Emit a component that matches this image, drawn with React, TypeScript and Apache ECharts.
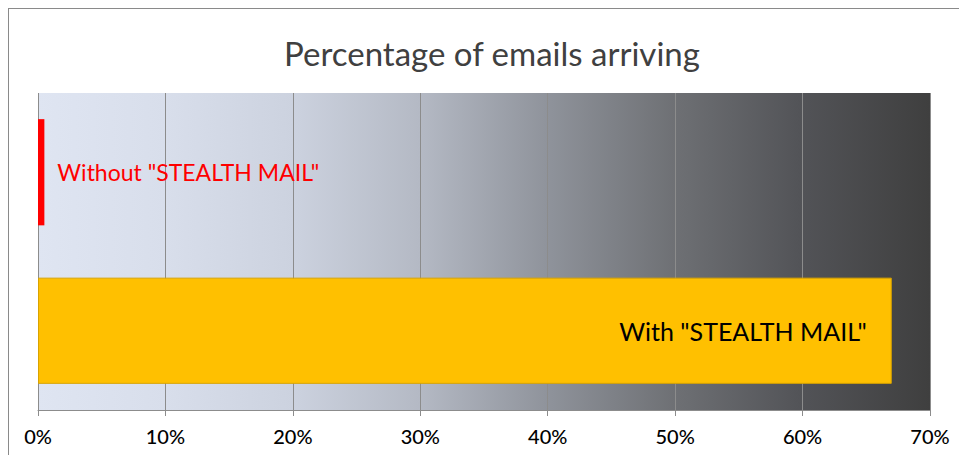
import React, { useEffect, useRef } from "react";
import * as echarts from "echarts";

const categories = ['Without "STEALTH MAIL"', 'With "STEALTH MAIL"'];
const values = [0.5, 67];
const barColors = ["#FF0000", "#FFC000"];
const labelColors = ["#FF0000", "#000000"];
const tickValues = [0, 10, 20, 30, 40, 50, 60, 70];
const titleText = "Percentage of emails arriving";

export default function App() {
  const ref = useRef<HTMLDivElement>(null);
  useEffect(() => {
    if (!ref.current) return;
    const chart = echarts.init(ref.current, undefined, { renderer: "svg" });
    chart.setOption({
      animation: false,
      backgroundColor: "#ffffff",
      title: {
        text: titleText,
        left: 487,
        textAlign: "center",
        top: 31,
        textStyle: { fontFamily: "Lato", fontSize: 33, fontWeight: "normal", color: "#404040" },
      },
      graphic: [
        { type: "line", shape: { x1: 8, y1: 8.5, x2: 959, y2: 8.5 }, style: { stroke: "#8a8a8a", lineWidth: 1 } },
        { type: "line", shape: { x1: 8.5, y1: 8, x2: 8.5, y2: 455 }, style: { stroke: "#8a8a8a", lineWidth: 1 } },
      ],
      grid: {
        left: 38,
        right: 29,
        top: 93,
        bottom: 45,
        show: true,
        borderWidth: 0,
        backgroundColor: new echarts.graphic.LinearGradient(0, 0, 1, 0, [
          { offset: 0, color: "#dfe5f2" },
          { offset: 1 / 7, color: "#d8deeb" },
          { offset: 2 / 7, color: "#ccd2df" },
          { offset: 3 / 7, color: "#b4b9c4" },
          { offset: 4 / 7, color: "#8f939b" },
          { offset: 5 / 7, color: "#6e7074" },
          { offset: 6 / 7, color: "#525357" },
          { offset: 1, color: "#3f3f3f" },
        ]),
      },
      xAxis: {
        type: "value",
        min: tickValues[0],
        max: tickValues[tickValues.length - 1],
        interval: 10,
        axisLine: { show: true, lineStyle: { color: "#8c8c8c" } },
        axisTick: { show: true, length: 6, lineStyle: { color: "#8c8c8c" } },
        splitLine: { show: true, lineStyle: { color: "#8c8c8c", width: 1 } },
        axisLabel: {
          formatter: "{value}%",
          margin: 16,
          fontFamily: "Lato",
          fontSize: 20,
          fontWeight: 500,
          color: "#000000",
        },
      },
      yAxis: {
        type: "category",
        data: categories,
        inverse: true,
        axisLine: { show: false },
        axisTick: { show: false },
        axisLabel: { show: false },
        splitLine: { show: false },
      },
      series: [
        {
          type: "bar",
          barWidth: "67%",
          data: values.map((v, i) => ({
            value: v,
            itemStyle: { color: barColors[i], borderColor: i === 1 ? "#d9a300" : barColors[i], borderWidth: i === 1 ? 1 : 0 },
            label: {
              show: true,
              formatter: "{b}",
              position: i === 0 ? "right" : "insideRight",
              distance: i === 0 ? 13 : 25,
              color: labelColors[i],
              fontFamily: "Lato",
              fontSize: i === 0 ? 23 : 25,
            },
          })),
        },
      ],
    });
    return () => chart.dispose();
  }, []);
  return <div ref={ref} style={{ position: "absolute", left: 0, top: 0, width: 959, height: 455 }} />;
}
